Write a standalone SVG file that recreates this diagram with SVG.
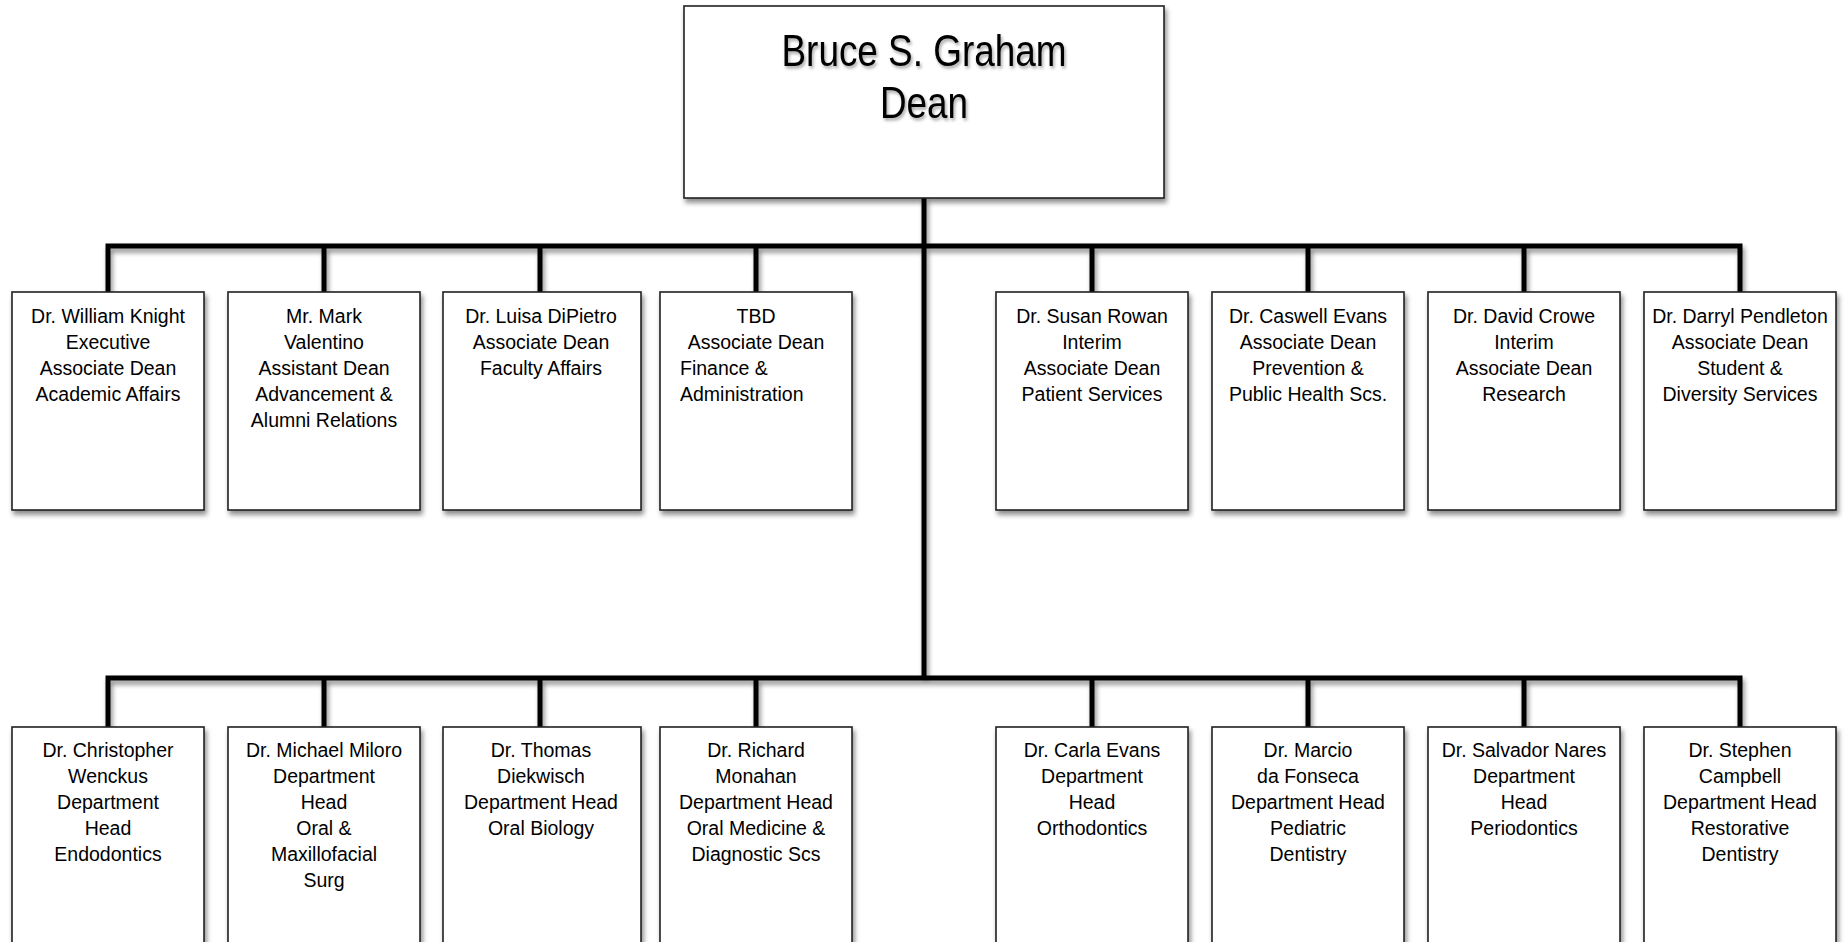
<svg xmlns="http://www.w3.org/2000/svg" width="1847" height="942" viewBox="0 0 1847 942">
<defs>
<filter id="sh" x="-10%" y="-10%" width="130%" height="130%">
<feDropShadow dx="2" dy="4" stdDeviation="2.5" flood-color="#000" flood-opacity="0.45"/>
</filter>
<filter id="lsh" filterUnits="userSpaceOnUse" x="0" y="0" width="1847" height="942">
<feDropShadow dx="2" dy="4" stdDeviation="2.5" flood-color="#000" flood-opacity="0.45"/>
</filter>
<filter id="tsh" x="-10%" y="-20%" width="130%" height="150%">
<feDropShadow dx="1.5" dy="2.5" stdDeviation="1.5" flood-color="#000" flood-opacity="0.35"/>
</filter>
</defs>
<style>
.box{fill:#fff;stroke:#222;stroke-width:1.6;filter:url(#sh)}
.t{font-family:"Liberation Sans",Arial,sans-serif;font-size:19.5px;fill:#000;text-anchor:middle}
.tl{text-anchor:start}
.big{font-family:"Liberation Sans",Arial,sans-serif;font-size:44px;fill:#000;text-anchor:middle;filter:url(#tsh)}
.ln{fill:none;stroke:#000;stroke-width:5;stroke-linejoin:miter;stroke-linecap:butt}
</style>
<rect width="1847" height="942" fill="#fff"/>
<g id="connectors" filter="url(#lsh)">
<path class="ln" d="M924,198 V678"/>
<path class="ln" d="M108,292 V246 H1740 V292 M324,246 V292 M540,246 V292 M756,246 V292 M1092,246 V292 M1308,246 V292 M1524,246 V292"/>
<path class="ln" d="M108,727 V678 H1740 V727 M324,678 V727 M540,678 V727 M756,678 V727 M1092,678 V727 M1308,678 V727 M1524,678 V727"/>
</g>
<g id="dean">
<rect class="box" x="684" y="6" width="480" height="192"/>
<text class="big" x="924" y="66" textLength="285" lengthAdjust="spacingAndGlyphs">Bruce S. Graham</text>
<text class="big" x="924" y="118" textLength="88" lengthAdjust="spacingAndGlyphs">Dean</text>
</g>
<g id="knight">
<rect class="box" x="12" y="292" width="192" height="218"/>
<text class="t" x="108" y="323">Dr. William Knight</text>
<text class="t" x="108" y="349">Executive</text>
<text class="t" x="108" y="375">Associate Dean</text>
<text class="t" x="108" y="401">Academic Affairs</text>
</g>
<g id="valentino">
<rect class="box" x="228" y="292" width="192" height="218"/>
<text class="t" x="324" y="323">Mr. Mark</text>
<text class="t" x="324" y="349">Valentino</text>
<text class="t" x="324" y="375">Assistant Dean</text>
<text class="t" x="324" y="401">Advancement &amp;</text>
<text class="t" x="324" y="427">Alumni Relations</text>
</g>
<g id="dipietro">
<rect class="box" x="443" y="292" width="198" height="218"/>
<text class="t" x="541" y="323">Dr. Luisa DiPietro</text>
<text class="t" x="541" y="349">Associate Dean</text>
<text class="t" x="541" y="375">Faculty Affairs</text>
</g>
<g id="tbd">
<rect class="box" x="660" y="292" width="192" height="218"/>
<text class="t" x="756" y="323">TBD</text>
<text class="t" x="756" y="349">Associate Dean</text>
<text class="t tl" x="680" y="375">Finance &amp;</text>
<text class="t tl" x="680" y="401">Administration</text>
</g>
<g id="rowan">
<rect class="box" x="996" y="292" width="192" height="218"/>
<text class="t" x="1092" y="323">Dr. Susan Rowan</text>
<text class="t" x="1092" y="349">Interim</text>
<text class="t" x="1092" y="375">Associate Dean</text>
<text class="t" x="1092" y="401">Patient Services</text>
</g>
<g id="cevans">
<rect class="box" x="1212" y="292" width="192" height="218"/>
<text class="t" x="1308" y="323">Dr. Caswell Evans</text>
<text class="t" x="1308" y="349">Associate Dean</text>
<text class="t" x="1308" y="375">Prevention &amp;</text>
<text class="t" x="1308" y="401">Public Health Scs.</text>
</g>
<g id="crowe">
<rect class="box" x="1428" y="292" width="192" height="218"/>
<text class="t" x="1524" y="323">Dr. David Crowe</text>
<text class="t" x="1524" y="349">Interim</text>
<text class="t" x="1524" y="375">Associate Dean</text>
<text class="t" x="1524" y="401">Research</text>
</g>
<g id="pendleton">
<rect class="box" x="1644" y="292" width="192" height="218"/>
<text class="t" x="1740" y="323">Dr. Darryl Pendleton</text>
<text class="t" x="1740" y="349">Associate Dean</text>
<text class="t" x="1740" y="375">Student &amp;</text>
<text class="t" x="1740" y="401">Diversity Services</text>
</g>
<g id="wenckus">
<rect class="box" x="12" y="727" width="192" height="220"/>
<text class="t" x="108" y="757">Dr. Christopher</text>
<text class="t" x="108" y="783">Wenckus</text>
<text class="t" x="108" y="809">Department</text>
<text class="t" x="108" y="835">Head</text>
<text class="t" x="108" y="861">Endodontics</text>
</g>
<g id="miloro">
<rect class="box" x="228" y="727" width="192" height="220"/>
<text class="t" x="324" y="757">Dr. Michael Miloro</text>
<text class="t" x="324" y="783">Department</text>
<text class="t" x="324" y="809">Head</text>
<text class="t" x="324" y="835">Oral &amp;</text>
<text class="t" x="324" y="861">Maxillofacial</text>
<text class="t" x="324" y="887">Surg</text>
</g>
<g id="diekwisch">
<rect class="box" x="443" y="727" width="198" height="220"/>
<text class="t" x="541" y="757">Dr. Thomas</text>
<text class="t" x="541" y="783">Diekwisch</text>
<text class="t" x="541" y="809">Department Head</text>
<text class="t" x="541" y="835">Oral Biology</text>
</g>
<g id="monahan">
<rect class="box" x="660" y="727" width="192" height="220"/>
<text class="t" x="756" y="757">Dr. Richard</text>
<text class="t" x="756" y="783">Monahan</text>
<text class="t" x="756" y="809">Department Head</text>
<text class="t" x="756" y="835">Oral Medicine &amp;</text>
<text class="t" x="756" y="861">Diagnostic Scs</text>
</g>
<g id="carla-evans">
<rect class="box" x="996" y="727" width="192" height="220"/>
<text class="t" x="1092" y="757">Dr. Carla Evans</text>
<text class="t" x="1092" y="783">Department</text>
<text class="t" x="1092" y="809">Head</text>
<text class="t" x="1092" y="835">Orthodontics</text>
</g>
<g id="dafonseca">
<rect class="box" x="1212" y="727" width="192" height="220"/>
<text class="t" x="1308" y="757">Dr. Marcio</text>
<text class="t" x="1308" y="783">da Fonseca</text>
<text class="t" x="1308" y="809">Department Head</text>
<text class="t" x="1308" y="835">Pediatric</text>
<text class="t" x="1308" y="861">Dentistry</text>
</g>
<g id="nares">
<rect class="box" x="1428" y="727" width="192" height="220"/>
<text class="t" x="1524" y="757">Dr. Salvador Nares</text>
<text class="t" x="1524" y="783">Department</text>
<text class="t" x="1524" y="809">Head</text>
<text class="t" x="1524" y="835">Periodontics</text>
</g>
<g id="campbell">
<rect class="box" x="1644" y="727" width="192" height="220"/>
<text class="t" x="1740" y="757">Dr. Stephen</text>
<text class="t" x="1740" y="783">Campbell</text>
<text class="t" x="1740" y="809">Department Head</text>
<text class="t" x="1740" y="835">Restorative</text>
<text class="t" x="1740" y="861">Dentistry</text>
</g>
</svg>
